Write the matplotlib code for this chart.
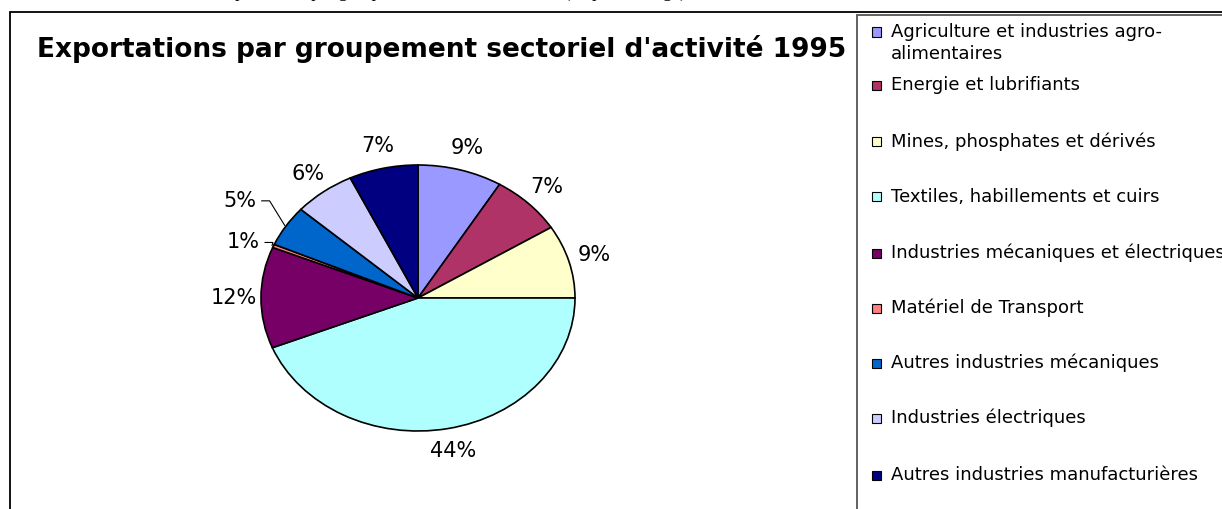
import numpy as np
import matplotlib
matplotlib.use('Agg')
import matplotlib.pyplot as plt
from matplotlib.patches import Rectangle

# data (percent of 1995 exports)
secteurs = ['Agriculture et industries agro-\nalimentaires',
            'Energie et lubrifiants',
            'Mines, phosphates et dérivés',
            'Textiles, habillements et cuirs',
            'Industries mécaniques et électriques',
            'Matériel de Transport',
            'Autres industries mécaniques',
            'Industries électriques',
            'Autres industries manufacturières']
parts = [8.7, 7.4, 8.9, 43.9, 12.3, 0.4, 5.0, 6.3, 7.1]
etiquettes = ['9%', '7%', '9%', '44%', '12%', '1%', '5%', '6%', '7%']
couleurs = ['#9999FF', '#AF3366', '#FFFFCC', '#B0FFFF', '#770066',
            '#FF8080', '#0066CC', '#CCCCFF', '#000080']

W, H = 1222, 509
fig = plt.figure(figsize=(W / 100, H / 100), dpi=100)
plt.rcParams['font.family'] = ['DejaVu Sans']

# outer frame of the chart area
fig.patches.append(Rectangle((10 / W, -0.01), 1.1, (H - 12) / H + 0.01,
                             transform=fig.transFigure, fill=False,
                             edgecolor='black', lw=1.3))
# legend frame
fig.patches.append(Rectangle((857 / W, -0.01), 1.0, (H - 15) / H + 0.01,
                             transform=fig.transFigure, fill=False,
                             edgecolor='#555555', lw=1.3))

# caption above the chart, mostly cut off by the image edge
fig.text(215 / W, 1 + 3.0 / H, "Exportations par groupement sectoriel d'activité (en pourcentage)",
         family='Liberation Serif', fontsize=13, ha='left', va='baseline')

fig.text(37 / W, 1 - 57 / H, "Exportations par groupement sectoriel d'activité 1995",
         fontsize=19, fontweight='bold', ha='left', va='baseline')

# pie axes sized so the pie becomes an ellipse (rx=157px, ry=133px)
cx, cy, rx, ry = 418, 298, 157, 133
ax = fig.add_axes([(cx - 1.5 * rx) / W, (H - cy - 1.5 * ry) / H, 3 * rx / W, 3 * ry / H])
wedges, textes = ax.pie(parts, colors=couleurs, startangle=90, counterclock=False,
                        labels=etiquettes, labeldistance=1.17,
                        wedgeprops=dict(edgecolor='black', linewidth=1.2),
                        textprops=dict(fontsize=15, ha='center', va='center'))
ax.set_aspect('auto')
ax.set_xlim(-1.5, 1.5)
ax.set_ylim(-1.5, 1.5)
ax.axis('off')

# move the two small-slice labels outward and add leader lines
for i, r, dtheta in [(5, 1.19, 2.5), (6, 1.35, 0.0)]:
    w = wedges[i]
    mid = np.deg2rad((w.theta1 + w.theta2) / 2)
    px, py = 1.01 * np.cos(mid), 1.01 * np.sin(mid)
    lt = mid + np.deg2rad(dtheta)
    lx, ly = r * np.cos(lt), r * np.sin(lt)
    textes[i].set_position((lx, ly))
    ax.plot([lx + 0.14, lx + 0.19, px], [ly, ly, py], color='black', lw=0.8)

# legend drawn by hand to reproduce the wide spacing
ys = [32, 85, 142, 197, 253, 308, 363, 418, 475]
for nom, c, y in zip(secteurs, couleurs, ys):
    fig.patches.append(Rectangle((872 / W, 1 - (y + 4.5) / H), 9 / W, 9 / H,
                                 transform=fig.transFigure, facecolor=c,
                                 edgecolor='black', lw=0.8))
    if '\n' in nom:
        fig.text(891 / W, 1 - (y - 9) / H, nom, fontsize=13, ha='left', va='top',
                 linespacing=1.3)
    else:
        fig.text(891 / W, 1 - y / H, nom, fontsize=13, ha='left', va='center')

fig.savefig('out.png', dpi=100)
